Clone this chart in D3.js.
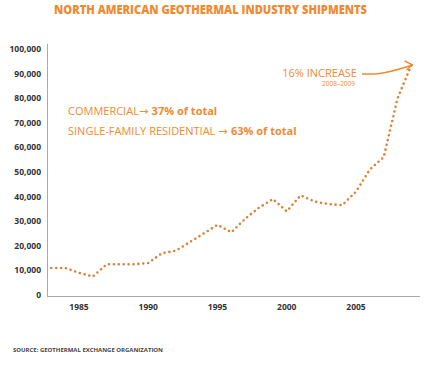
<!DOCTYPE html>
<html>
<head>
<meta charset="utf-8">
<script src="https://cdn.jsdelivr.net/npm/d3@7"></script>
<style>
  body { margin: 0; background: #fff; }
  svg { display: block; font-family: "Open Sans", sans-serif; }
</style>
</head>
<body>
<div id="chart"></div>
<script>
// shipments per year (units)
const years = [1983, 1984, 1985, 1986, 1987, 1988, 1989, 1990, 1991, 1992, 1993, 1994, 1995,
  1996, 1997, 1998, 1999, 2000, 2001, 2002, 2003, 2004, 2005, 2006, 2007, 2008, 2009];
const shipments = [11000, 11000, 9000, 7500, 12500, 12500, 12500, 13000, 17000, 18000, 21500, 25000, 28500,
  25500, 31000, 35500, 39000, 34000, 40500, 38000, 37000, 36500, 42000, 51000, 56000, 80000, 93500];
const yTicks = [0, 10000, 20000, 30000, 40000, 50000, 60000, 70000, 80000, 90000, 100000];
const xTicks = [1985, 1990, 1995, 2000, 2005];

const width = 447, height = 366;
const orange = "#ef8a33";

const svg = d3.select("#chart").append("svg")
  .attr("width", width)
  .attr("height", height);

const x = d3.scaleLinear().domain([1985, 2005]).range([79, 356]);
const y = d3.scaleLinear().domain([0, 100000]).range([295, 49]);

// title
svg.append("text")
  .attr("x", 54).attr("y", 14)
  .attr("textLength", 313)
  .attr("lengthAdjust", "spacingAndGlyphs")
  .style("font-size", "11.5px")
  .style("font-weight", "800")
  .attr("fill", orange)
  .text("NORTH AMERICAN GEOTHERMAL INDUSTRY SHIPMENTS");

// axes lines
svg.append("line")
  .attr("x1", 47.5).attr("x2", 47.5).attr("y1", 44).attr("y2", 296.5)
  .attr("stroke", "#a9a9a9");
svg.append("line")
  .attr("x1", 47).attr("x2", 420).attr("y1", 296.5).attr("y2", 296.5)
  .attr("stroke", "#a9a9a9");

svg.append("g").selectAll("text")
  .data(yTicks)
  .join("text")
  .attr("x", 41)
  .attr("y", d => y(d) + 3)
  .attr("text-anchor", "end")
  .style("font-size", "8.5px")
  .style("font-weight", "700")
  .attr("fill", "#333")
  .text(d => d3.format(",")(d));

svg.append("g").selectAll("text")
  .data(xTicks)
  .join("text")
  .attr("x", d => x(d))
  .attr("y", 310)
  .attr("text-anchor", "middle")
  .style("font-size", "8.5px")
  .style("font-weight", "700")
  .attr("fill", "#333")
  .text(d => d);

// dotted line
const line = d3.line()
  .x((d, i) => x(years[i]))
  .y(d => y(d));

svg.append("path")
  .datum(shipments)
  .attr("d", line)
  .attr("fill", "none")
  .attr("stroke", "#de8037")
  .attr("stroke-width", 2.6)
  .attr("stroke-linecap", "round")
  .attr("stroke-dasharray", "0 4.9");

// annotations
const arrowFont = "DejaVu Sans, sans-serif";
const t1 = svg.append("text").attr("x", 68).attr("y", 115)
  .style("font-size", "11px").attr("fill", orange);
t1.append("tspan").text("COMMERCIAL");
t1.append("tspan").style("font-family", arrowFont).text("\u2192 ");
t1.append("tspan").style("font-weight", "700").text("37% of total");

const t2 = svg.append("text").attr("x", 68).attr("y", 135)
  .style("font-size", "11px").attr("fill", orange);
t2.append("tspan").text("SINGLE-FAMILY RESIDENTIAL ");
t2.append("tspan").style("font-family", arrowFont).text("\u2192 ");
t2.append("tspan").style("font-weight", "700").text("63% of total");

svg.append("text")
  .attr("x", 357).attr("y", 77)
  .attr("text-anchor", "end")
  .style("font-size", "11px")
  .attr("fill", orange)
  .text("16% INCREASE");
svg.append("text")
  .attr("x", 355).attr("y", 86)
  .attr("text-anchor", "end")
  .style("font-size", "6.5px")
  .attr("fill", orange)
  .text("2008\u20132009");

// arrow to last point
const last = [x(years[years.length - 1]), y(shipments[shipments.length - 1])];
svg.append("path")
  .attr("d", `M362,74 L376,74 Q392,72 ${last[0] + 1},${last[1]}`)
  .attr("fill", "none")
  .attr("stroke", orange)
  .attr("stroke-width", 1.4);
svg.append("path")
  .attr("d", `M${last[0] - 7},${last[1] - 4} L${last[0] + 1},${last[1]} L${last[0] - 5},${last[1] + 5}`)
  .attr("fill", "none")
  .attr("stroke", orange)
  .attr("stroke-width", 1.4);

// source
svg.append("text")
  .attr("x", 13).attr("y", 352)
  .attr("textLength", 150)
  .attr("lengthAdjust", "spacingAndGlyphs")
  .style("font-size", "5.5px")
  .style("font-weight", "700")
  .attr("fill", "#444")
  .text("SOURCE: GEOTHERMAL EXCHANGE ORGANIZATION");
</script>
</body>
</html>
